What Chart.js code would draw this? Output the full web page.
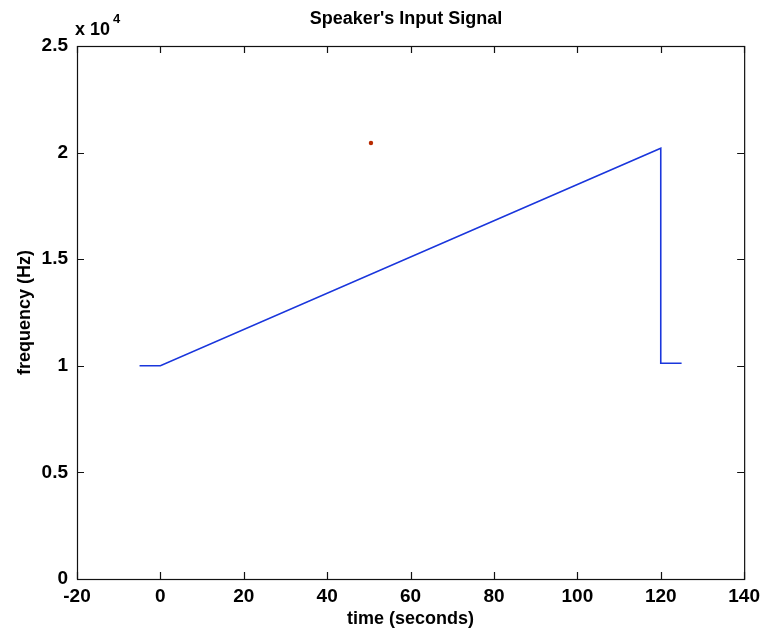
<!DOCTYPE html>
<html>
<head>
<meta charset="utf-8">
<script src="https://cdn.jsdelivr.net/npm/chart.js@4.4.1/dist/chart.umd.min.js"></script>
<style>
html,body{margin:0;padding:0;background:#fff;}
#wrap{width:766px;height:631px;position:relative;}
</style>
</head>
<body>
<div id="wrap"><canvas id="c" width="766" height="631"></canvas></div>
<script>
// ---- data ----
const timeSeconds = [-5, 0, 120, 120, 125];
const frequencyHz = [10000, 10000, 20200, 10120, 10120];
const speckX = [50.5];
const speckY = [20450];
const xTickValues = [-20, 0, 20, 40, 60, 80, 100, 120, 140];
const yTickValues = [0, 5000, 10000, 15000, 20000, 25000];
const titleText = "Speaker's Input Signal";
const xLabel = "time (seconds)";
const yLabel = "frequency (Hz)";
const yScaleFactor = 10000;

const FONT = "'Liberation Sans', Arial, Helvetica, sans-serif";

const lineData = timeSeconds.map((t, i) => ({x: t, y: frequencyHz[i]}));
const speckData = speckX.map((t, i) => ({x: t, y: speckY[i]}));

const framePlugin = {
  id: 'frame',
  afterDraw(chart) {
    const ctx = chart.ctx;
    const a = chart.chartArea;
    const xs = chart.scales.x, ys = chart.scales.y;
    ctx.save();
    ctx.strokeStyle = '#111';
    ctx.lineWidth = 1.2;
    ctx.strokeRect(a.left + 0.5, a.top + 0.5, a.right - a.left, a.bottom - a.top);
    const L = 7;
    ctx.beginPath();
    xTickValues.forEach(v => {
      const px = Math.round(xs.getPixelForValue(v)) + 0.5;
      ctx.moveTo(px, a.bottom); ctx.lineTo(px, a.bottom - L);
      ctx.moveTo(px, a.top); ctx.lineTo(px, a.top + L);
    });
    yTickValues.forEach(v => {
      const py = Math.round(ys.getPixelForValue(v)) + 0.5;
      ctx.moveTo(a.left, py); ctx.lineTo(a.left + L, py);
      ctx.moveTo(a.right, py); ctx.lineTo(a.right - L, py);
    });
    ctx.stroke();
    // title
    ctx.fillStyle = '#000';
    ctx.font = 'bold 18px ' + FONT;
    ctx.textAlign = 'center';
    ctx.textBaseline = 'middle';
    ctx.fillText(titleText, 406, 19);
    // exponent label
    ctx.textAlign = 'left';
    ctx.font = 'bold 18px ' + FONT;
    ctx.fillText('x 10', a.left - 2, 30);
    const w = ctx.measureText('x 10').width;
    ctx.font = 'bold 13px ' + FONT;
    ctx.fillText('4', a.left + w + 1, 19);
    ctx.restore();
  }
};

new Chart(document.getElementById('c'), {
  type: 'scatter',
  data: {
    datasets: [
      {
        data: lineData,
        showLine: true,
        borderColor: '#1a36dc',
        borderWidth: 1.6,
        pointRadius: 0,
        fill: false,
        tension: 0
      },
      {
        data: speckData,
        showLine: false,
        pointRadius: 2.2,
        pointBackgroundColor: '#b82a00',
        pointBorderWidth: 0
      }
    ]
  },
  options: {
    responsive: false,
    animation: false,
    devicePixelRatio: 1,
    layout: {padding: {top: 46, right: 17, left: 0, bottom: 0}},
    plugins: {legend: {display: false}, tooltip: {enabled: false}, title: {display: false}},
    scales: {
      x: {
        type: 'linear', min: -20, max: 140,
        afterFit(s) { s.height = 52; },
        afterBuildTicks(s) { s.ticks = xTickValues.map(v => ({value: v})); },
        grid: {display: false, drawTicks: false},
        border: {display: false},
        ticks: {color: '#000', font: {family: FONT, size: 19, weight: 'bold'}, padding: 6, maxRotation: 0, autoSkip: false},
        title: {display: true, text: xLabel, color: '#000', font: {family: FONT, size: 18, weight: 'bold'}, padding: {top: 0, bottom: 1}}
      },
      y: {
        type: 'linear', min: 0, max: 25000,
        afterFit(s) { s.width = 77; },
        afterBuildTicks(s) { s.ticks = yTickValues.map(v => ({value: v})); },
        grid: {display: false, drawTicks: false},
        border: {display: false},
        ticks: {color: '#000', font: {family: FONT, size: 19, weight: 'bold'}, padding: 9,
          callback: v => String(v / yScaleFactor)},
        title: {display: true, text: yLabel, color: '#000', font: {family: FONT, size: 18, weight: 'bold'}, padding: {top: 14, bottom: 0}}
      }
    }
  },
  plugins: [framePlugin]
});
</script>
</body>
</html>
